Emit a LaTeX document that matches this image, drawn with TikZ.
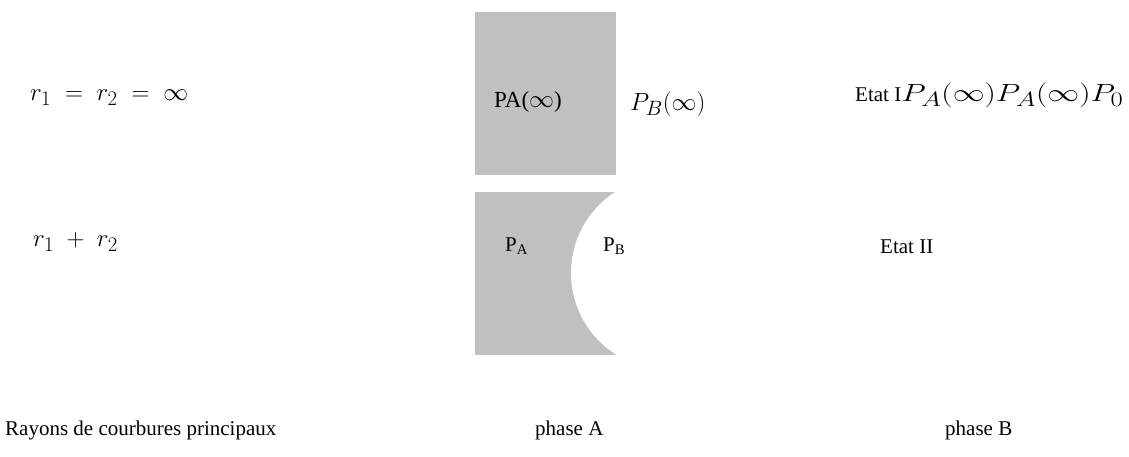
\documentclass[tikz,border=0pt]{standalone}
\usepackage{fontspec}
\usepackage{graphicx}
\setmainfont{Liberation Serif}
\usetikzlibrary{positioning}
\definecolor{phasegray}{RGB}{192,192,192}
\newcommand{\mathbig}[1]{{\fontsize{28}{32}\selectfont$#1$}}

\begin{document}
\begin{tikzpicture}[x=1pt,y=-1pt]
\tikzset{
  txtnode/.style={anchor=west,inner sep=0pt,font=\fontsize{21}{25}\selectfont},
  phasefill/.style={fill=phasegray,draw=none}
}
\useasboundingbox (0,0) rectangle (1129,457);
% phase blocks
\fill[phasefill] (475,12) rectangle (616,175);
\begin{scope}
  \clip (475,192) rectangle (616,355);
  \fill[phasefill] (475,192) rectangle (616,355);
  \fill[white] (667.3,273) circle[radius=96.3pt];
\end{scope}
% first row
\node[txtnode] (r_eq) at (30,98) {\mathbig{r_1 \;=\; r_2 \;=\; \infty}};
\node[txtnode,font=\fontsize{23}{27}\selectfont] (pa_inf) at (494,102) {PA({\fontsize{30}{32}\selectfont$\infty$})};
\node[txtnode] (pb_inf) at (630,104) {\mathbig{P_B(\infty)}};
\node[txtnode] (etat_1) at (855,95) {Etat I\scalebox{1.28}[1]{\mathbig{P_A(\infty)P_A(\infty)P_0}}};
% second row
\node[txtnode] (r_sum) at (33,242) {\mathbig{r_1 \;+\; r_2}};
\node[txtnode] (pa) at (505,246) {P\textsubscript{A}};
\node[txtnode] (pb) at (603,246) {P\textsubscript{B}};
\node[txtnode] (etat_2) at (880,247) {Etat II};
% legend row
\node[txtnode] (rayons) at (5,430) {Rayons de courbures principaux};
\node[txtnode] (phase_a) at (535,430) {phase A};
\node[txtnode] (phase_b) at (945,430) {phase B};
\end{tikzpicture}
\end{document}
